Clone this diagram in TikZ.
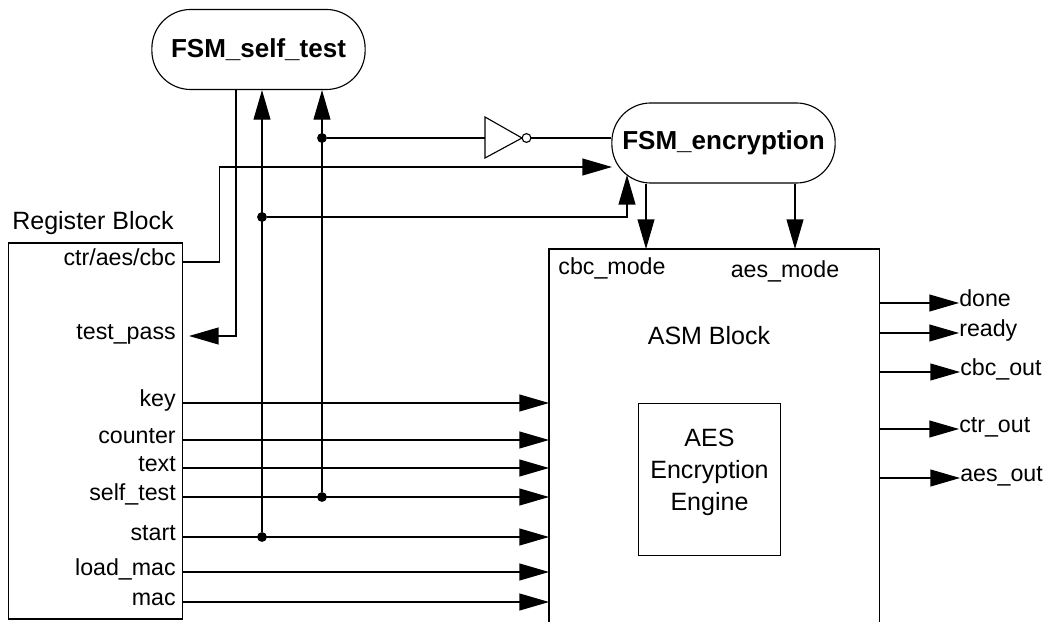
\documentclass[tikz,border=0pt]{standalone}
\usepackage{fontspec}
\setmainfont{Liberation Sans}
\usetikzlibrary{arrows.meta,positioning}

\newcommand{\lab}{\fontsize{16.5}{22.7}\selectfont}
\newcommand{\biglab}{\fontsize{17.8}{22.7}\selectfont}
\newcommand{\fsmfont}{\bfseries\fontsize{18.5}{21}\selectfont}

\tikzset{
  wire/.style={line width=0.8pt},
  sig/.style={wire,-{Triangle[length=21pt,width=12pt]}},
  fsm/.style={draw,line width=0.8pt,rounded corners=0.97cm,font=\fsmfont,minimum height=2cm},
  block/.style={draw,line width=0.8pt},
  port/.style={anchor=east,inner sep=0pt,font=\lab,text height=0.75em,text depth=0.25em},
  outlab/.style={anchor=west,inner sep=0pt,font=\lab,text height=0.75em,text depth=0.25em},
  junc/.style={circle,fill,inner sep=0pt,minimum size=7pt}
}

\begin{document}
\begin{tikzpicture}[x=0.025cm,y=-0.025cm]
\useasboundingbox (0,0) rectangle (1045,622);

% state machines
\node [fsm,minimum width=5.33cm] (fsmself) at (258.5,49.5) {FSM\_self\_test};
\node [fsm,minimum width=5.58cm] (fsmenc) at (723.5,143) {FSM\_encryption};

% register block
\node [block,minimum width=4.33cm,minimum height=9.4cm] (reg) at (95.5,431) {};
\node [anchor=west,inner sep=0pt,font=\biglab] (regname) at (12,223) {Register Block};
\node [port] (ctr) at (176,262) {ctr/aes/cbc};
\node [port] (tp) at (176,336) {test\_pass};
\node [port] (key) at (176,403) {key};
\node [port] (cnt) at (176,440) {counter};
\node [port] (txt) at (176,468) {text};
\node [port] (st) at (176,497) {self\_test};
\node [port] (start) at (176,537) {start};
\node [port] (lmac) at (176,572) {load\_mac};
\node [port] (mac) at (176,602) {mac};

% ASM block, open at the bottom
\node [minimum width=8.25cm,minimum height=9.33cm,anchor=north west] (asm) at (549,249) {};
\draw [wire] (asm.south west) -- (asm.north west) -- (asm.north east) -- (asm.south east);
\node [font=\lab] (cbcm) at (612,268) {cbc\_mode};
\node [font=\lab] (aesm) at (785,271) {aes\_mode};
\node [font=\biglab] (asmname) at (709,336) {ASM Block};
\node [block,minimum width=3.53cm,minimum height=3.78cm,
  label={[align=center,font=\biglab,yshift=5pt]center:AES\\Encryption\\Engine}] (aes) at (709.5,479.5) {};

% outputs
\node [outlab] (done) at (959,303) {done};
\node [outlab] (ready) at (959,333) {ready};
\node [outlab] (cbco) at (960,372) {cbc\_out};
\node [outlab] (ctro) at (959,429) {ctr\_out};
\node [outlab] (aeso) at (960,478) {aes\_out};
\draw [sig] (asm.east |- done) -- (done.west);
\draw [sig] (asm.east |- ready) -- (ready.west);
\draw [sig] (asm.east |- cbco) -- (cbco.west);
\draw [sig] (asm.east |- ctro) -- (ctro.west);
\draw [sig] (asm.east |- aeso) -- (aeso.west);

% register -> ASM
\draw [sig] (reg.east |- key) -- (asm.west |- key);
\draw [sig] (reg.east |- cnt) -- (asm.west |- cnt);
\draw [sig] (reg.east |- txt) -- (asm.west |- txt);
\draw [sig] (reg.east |- st) -- (asm.west |- st);
\draw [sig] (reg.east |- start) -- (asm.west |- start);
\draw [sig] (reg.east |- lmac) -- (asm.west |- lmac);
\draw [sig] (reg.east |- mac) -- (asm.west |- mac);

% taps to the state machines
\node [junc] (jstart) at (262,537) {};
\node [junc] (jself) at (322,497) {};
\node [junc] (jgo) at (262,217) {};
\node [junc] (jinv) at (322,138) {};
\draw [sig] (jstart) -- (jstart |- fsmself.south);
\draw [sig] (jself) -- (jself |- fsmself.south);
\coordinate (goin) at (627,175);
\draw [sig] (jgo) -| (goin);

% inverter
\coordinate (invin) at (485,138); \coordinate (invout) at (531,138);
\draw [wire] (485,117) -- (485,158) -- (522,138) -- cycle;
\draw [wire] (526.5,138) circle [radius=0.11cm];
\draw [line width=1.2pt] (jinv) -- (invin);
\draw [line width=1.2pt] (invout) -- (fsmenc.west |- invout);

% mode select and test result
\coordinate (modein) at (612,167);
\draw [sig] (reg.east |- ctr) -- ++(37,0) |- (modein);
\draw [sig] (fsmself.south -| 236,0) |- ([xshift=4.5pt]reg.east |- tp);

% FSM_encryption -> ASM
\draw [sig] (fsmenc.south -| 646,0) -- (asm.north -| 646,0);
\draw [sig] (fsmenc.south -| 795,0) -- (asm.north -| 795,0);
\end{tikzpicture}
\end{document}
